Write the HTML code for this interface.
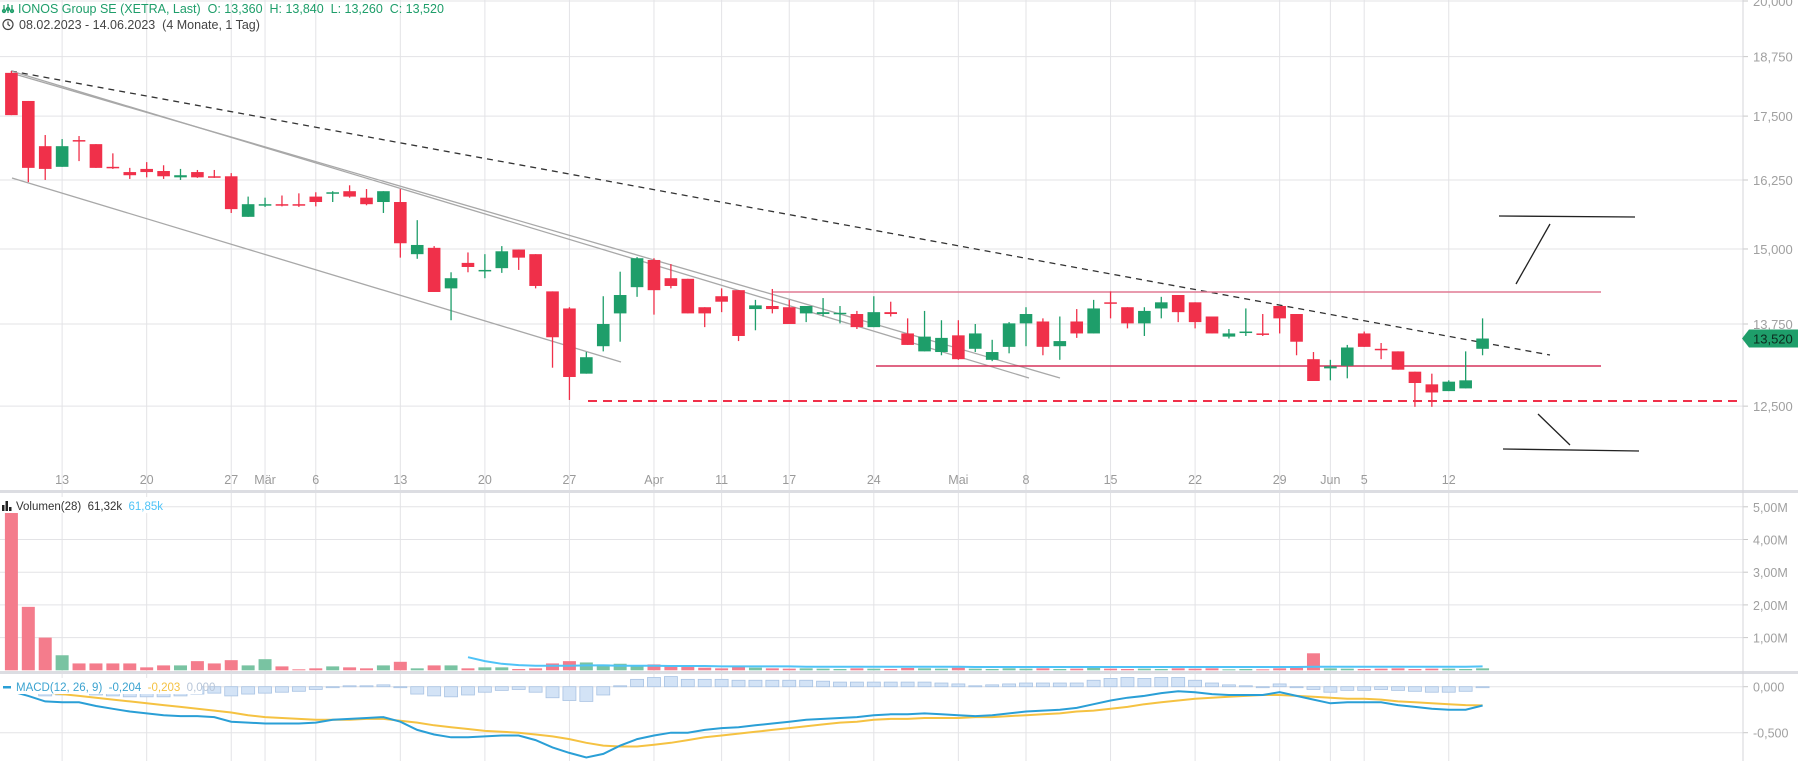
<!DOCTYPE html>
<html><head><meta charset="utf-8"><title>IONOS Group SE Chart</title>
<style>
html,body{margin:0;padding:0;background:#fff;}
body{width:1798px;height:761px;overflow:hidden;font-family:"Liberation Sans",Arial,sans-serif;}
svg text{font-family:"Liberation Sans",Arial,sans-serif;}
</style></head>
<body>
<svg id="chart" xmlns="http://www.w3.org/2000/svg" width="1798" height="761" viewBox="0 0 1798 761">
  <rect x="0" y="0" width="1798" height="761" fill="#ffffff"/>
  <g id="grid"></g>
  <g id="drawings"></g>
  <g id="candles"></g>
  <g id="volume"></g>
  <g id="macd"></g>
  <g id="axes"></g>
  <g id="legend">
    <g>
      <g stroke="#1e9e6a" stroke-width="1.3" fill="none">
        <line x1="4" y1="5" x2="4" y2="13"/><line x1="8" y1="4" x2="8" y2="13"/><line x1="12" y1="5" x2="12" y2="13"/>
        <circle cx="4" cy="11" r="1.5"/><circle cx="8" cy="9" r="1.5"/><circle cx="12" cy="11" r="1.5"/>
      </g>
      <text x="18" y="13" font-size="12.5" fill="#1e9e6a">IONOS Group SE (XETRA, Last)&#160; O: 13,360&#160; H: 13,840&#160; L: 13,260&#160; C: 13,520</text>
      <g stroke="#444" stroke-width="1.2" fill="none">
        <circle cx="8" cy="24.5" r="5"/><polyline points="8,21.5 8,24.5 10,26"/>
      </g>
      <text x="19" y="29" font-size="12.5" fill="#444">08.02.2023 - 14.06.2023&#160; (4 Monate, 1 Tag)</text>
    </g>
    <g>
      <rect x="0" y="497" width="156" height="16" fill="#fff"/>
      <rect x="2" y="505" width="2.5" height="6" fill="#222"/><rect x="5.5" y="501" width="2.5" height="10" fill="#222"/><rect x="9" y="507" width="2.5" height="4" fill="#222"/>
      <text x="16" y="510" font-size="11.5" fill="#333">Volumen(28)&#160; 61,32k&#160; <tspan fill="#4fc3f7">61,85k</tspan></text>
    </g>
    <g>
      <rect x="0" y="678" width="202" height="16" fill="#fff"/>
      <rect x="3" y="686" width="8" height="2.5" fill="#2a9fd6"/>
      <text x="16" y="691" font-size="11.5" fill="#3ba3d0">MACD(12, 26, 9)&#160; -0,204&#160; <tspan fill="#f5c242">-0,203</tspan>&#160; <tspan fill="#b8c6d8">0,000</tspan></text>
    </g>
  </g>
</svg>
<script>
// ---- data ----
const xLabels = ['13','20','27','Mär','6','13','20','27','Apr','11','17','24','Mai','8','15','22','29','Jun','5','12'];
const xLabelIdx = [3,8,13,15,18,23,28,33,38,42,46,51,56,60,65,70,75,78,80,85];
const priceTicks = [20,18.75,17.5,16.25,15,13.75,12.5];
const volTicks = [1,2,3,4,5];
const macdTicks = [0,-0.5];
const openP = [18.40,17.81,16.90,16.50,17.02,16.94,16.50,16.40,16.46,16.42,
16.30,16.40,16.32,16.32,15.57,15.79,15.80,15.80,15.94,16.00,
16.04,15.92,15.84,15.84,14.91,15.02,14.33,14.76,14.62,14.67,
14.99,14.91,14.28,14.00,12.98,13.40,13.92,14.35,14.81,14.50,
14.49,14.02,14.20,14.30,13.99,14.04,14.02,13.92,13.91,13.92,
13.91,13.70,13.94,13.60,13.32,13.31,13.57,13.36,13.19,13.39,
13.76,13.79,13.40,13.79,13.60,14.10,14.02,13.76,14.00,14.22,
14.10,13.87,13.55,13.62,13.60,14.04,13.91,13.20,13.06,13.10,
13.60,13.36,13.32,13.01,12.82,12.72,12.76,13.36];
const highP = [18.44,17.81,17.12,17.04,17.10,16.94,16.76,16.48,16.59,16.53,
16.46,16.44,16.44,16.38,15.94,15.92,15.96,16.00,16.02,16.04,
16.15,16.08,16.04,16.08,15.51,15.05,14.60,14.94,14.91,15.05,
14.99,14.91,14.28,14.02,13.31,14.20,14.61,14.86,14.84,14.74,
14.49,14.02,14.33,14.30,14.14,14.32,14.14,14.04,14.17,14.04,
13.96,14.20,14.11,13.84,13.96,13.81,13.81,13.75,13.50,13.78,
14.02,13.84,13.87,13.99,14.14,14.28,14.02,14.02,14.19,14.22,
14.10,13.87,13.67,14.00,13.91,14.04,13.91,13.31,13.19,13.42,
13.63,13.45,13.32,13.01,12.98,12.88,13.32,13.84];
const lowP = [17.52,16.21,16.25,16.50,16.61,16.48,16.46,16.27,16.30,16.27,
16.25,16.29,16.29,15.64,15.57,15.75,15.76,15.75,15.76,15.84,
15.92,15.78,15.64,14.85,14.83,14.27,13.81,14.60,14.50,14.59,
14.64,14.33,13.07,12.59,12.98,13.32,13.47,14.19,13.90,14.33,
13.92,13.70,13.94,13.48,13.65,13.92,13.75,13.78,13.87,13.76,
13.67,13.70,13.87,13.42,13.32,13.26,13.19,13.31,13.17,13.29,
13.40,13.26,13.19,13.53,13.60,13.84,13.68,13.56,13.84,13.78,
13.68,13.60,13.52,13.56,13.56,13.60,13.26,12.87,12.88,12.91,
13.39,13.20,13.04,12.49,12.49,12.72,12.76,13.26];
const closeP = [17.52,16.48,16.46,16.90,17.00,16.48,16.48,16.34,16.40,16.32,
16.34,16.30,16.30,15.71,15.80,15.80,15.78,15.78,15.84,16.02,
15.94,15.80,16.04,15.10,15.07,14.27,14.50,14.69,14.64,14.96,
14.85,14.37,13.54,12.93,13.23,13.75,14.22,14.84,14.30,14.37,
13.92,13.92,14.11,13.56,14.05,13.99,13.75,14.04,13.94,13.93,
13.70,13.94,13.91,13.42,13.55,13.53,13.20,13.60,13.31,13.76,
13.91,13.39,13.48,13.60,14.00,14.09,13.76,13.96,14.10,13.94,
13.78,13.60,13.60,13.63,13.59,13.84,13.47,12.87,13.09,13.38,
13.39,13.34,13.04,12.84,12.70,12.86,12.88,13.52];
const volumeM = [4.81,1.94,1.00,0.46,0.21,0.21,0.21,0.21,0.09,0.15,
0.15,0.28,0.21,0.31,0.15,0.34,0.12,0.03,0.06,0.12,
0.09,0.06,0.15,0.26,0.06,0.15,0.15,0.06,0.09,0.09,
0.04,0.06,0.21,0.28,0.24,0.18,0.20,0.14,0.18,0.12,
0.10,0.08,0.06,0.12,0.08,0.06,0.05,0.06,0.05,0.04,
0.06,0.05,0.04,0.07,0.06,0.05,0.08,0.05,0.04,0.06,
0.05,0.06,0.04,0.05,0.08,0.05,0.04,0.05,0.04,0.06,
0.05,0.06,0.03,0.04,0.03,0.06,0.08,0.52,0.06,0.05,
0.04,0.05,0.06,0.04,0.05,0.05,0.04,0.06];
const volumeMA = [null,null,null,null,null,null,null,null,null,null,
null,null,null,null,null,null,null,null,null,null,
null,null,null,null,null,null,null,0.40,0.28,0.20,
0.16,0.14,0.14,0.14,0.15,0.15,0.14,0.14,0.14,0.13,
0.13,0.13,0.12,0.12,0.12,0.12,0.12,0.11,0.11,0.11,
0.11,0.11,0.11,0.11,0.11,0.11,0.11,0.10,0.10,0.10,
0.10,0.10,0.10,0.10,0.10,0.10,0.10,0.10,0.10,0.10,
0.10,0.10,0.10,0.10,0.10,0.10,0.10,0.11,0.11,0.11,
0.11,0.11,0.11,0.11,0.11,0.11,0.11,0.12];
const macdLine = [-0.05,-0.10,-0.16,-0.17,-0.17,-0.21,-0.24,-0.27,-0.29,-0.31,
-0.32,-0.32,-0.33,-0.38,-0.39,-0.40,-0.40,-0.40,-0.39,-0.36,
-0.35,-0.34,-0.33,-0.38,-0.47,-0.52,-0.55,-0.55,-0.54,-0.53,
-0.53,-0.58,-0.66,-0.72,-0.77,-0.73,-0.64,-0.57,-0.53,-0.50,
-0.50,-0.47,-0.45,-0.44,-0.42,-0.40,-0.38,-0.36,-0.35,-0.34,
-0.33,-0.31,-0.30,-0.30,-0.29,-0.30,-0.31,-0.32,-0.31,-0.29,
-0.27,-0.26,-0.25,-0.23,-0.19,-0.15,-0.12,-0.10,-0.07,-0.05,
-0.06,-0.08,-0.09,-0.09,-0.09,-0.06,-0.10,-0.14,-0.18,-0.17,
-0.17,-0.17,-0.20,-0.22,-0.24,-0.25,-0.25,-0.204];
const signalLine = [-0.04,-0.05,-0.06,-0.08,-0.10,-0.12,-0.14,-0.16,-0.18,-0.20,
-0.22,-0.24,-0.26,-0.28,-0.31,-0.33,-0.34,-0.35,-0.36,-0.36,
-0.36,-0.35,-0.35,-0.37,-0.39,-0.42,-0.44,-0.46,-0.48,-0.49,
-0.50,-0.52,-0.54,-0.57,-0.61,-0.64,-0.65,-0.65,-0.63,-0.61,
-0.58,-0.55,-0.53,-0.51,-0.49,-0.47,-0.45,-0.43,-0.41,-0.39,
-0.38,-0.36,-0.35,-0.35,-0.34,-0.34,-0.34,-0.33,-0.33,-0.32,
-0.31,-0.30,-0.29,-0.27,-0.26,-0.24,-0.22,-0.19,-0.17,-0.15,
-0.13,-0.12,-0.11,-0.10,-0.09,-0.09,-0.10,-0.11,-0.12,-0.13,
-0.13,-0.14,-0.16,-0.17,-0.18,-0.19,-0.20,-0.203];
const lastPrice = 13.52;

// ---- scales ----
const NS = 'http://www.w3.org/2000/svg';
const AXIS_X = 1743;
function xI(i){ return 11.4 + i*16.91; }
function yP(p){ return 1 + Math.log(20/p)*862; }
function yV(v){ return 670.3 - v*32.7; }
function yM(m){ return 686.7 - m*92; }
function mk(tag, attrs, parent){
  const e = document.createElementNS(NS, tag);
  for (const k in attrs) e.setAttribute(k, attrs[k]);
  parent.appendChild(e);
  return e;
}
function fmt(v, d){ return v.toFixed(d).replace('.', ','); }

const gGrid = document.getElementById('grid');
const gDraw = document.getElementById('drawings');
const gC = document.getElementById('candles');
const gV = document.getElementById('volume');
const gM = document.getElementById('macd');
const gA = document.getElementById('axes');

xLabelIdx.forEach((idx, k) => {
  const x = xI(idx);
  const l = mk('line', {x1:x, y1:0, x2:x, y2:761, stroke:'#e3e3e6', 'stroke-width':1}, gGrid);
  
  
  const t = mk('text', {x:x, y:484, 'font-size':12.5, fill:'#9a9a9a', 'text-anchor':'middle'}, gA);
  t.textContent = xLabels[k];
  
  
});
priceTicks.forEach(p => {
  const y = yP(p);
  const l = mk('line', {x1:0, y1:y, x2:AXIS_X, y2:y, stroke:'#e3e3e6', 'stroke-width':1}, gGrid);
  
  
  mk('line', {x1:AXIS_X, y1:y, x2:AXIS_X+5, y2:y, stroke:'#c8c8c8'}, gA);
  const t = mk('text', {x:AXIS_X+10, y:y+5, 'font-size':13, fill:'#a0a0a0'}, gA);
  t.textContent = fmt(p, 3);
  
  
});
volTicks.forEach(v => {
  const y = yV(v);
  const l = mk('line', {x1:0, y1:y, x2:AXIS_X, y2:y, stroke:'#e3e3e6'}, gGrid);
  
  
  mk('line', {x1:AXIS_X, y1:y, x2:AXIS_X+5, y2:y, stroke:'#c8c8c8'}, gA);
  const t = mk('text', {x:AXIS_X+10, y:y+5, 'font-size':12.5, fill:'#a0a0a0'}, gA);
  t.textContent = fmt(v, 2) + 'M';
  
  
});
macdTicks.forEach(m => {
  const y = yM(m);
  const l = mk('line', {x1:0, y1:y, x2:AXIS_X, y2:y, stroke:'#e3e3e6'}, gGrid);
  
  
  mk('line', {x1:AXIS_X, y1:y, x2:AXIS_X+5, y2:y, stroke:'#c8c8c8'}, gA);
  const t = mk('text', {x:AXIS_X+10, y:y+5, 'font-size':12.5, fill:'#a0a0a0'}, gA);
  t.textContent = fmt(m, 3);
  
  
});
[[490,3],[671,3]].forEach(s => {
  const r = mk('rect', {x:0, y:s[0], width:1798, height:s[1], fill:'#dcdde2'}, gA);
  
  
});
const ax = mk('line', {x1:AXIS_X, y1:0, x2:AXIS_X, y2:761, stroke:'#d4d4d8'}, gA);



function dl(x1,y1,x2,y2,stroke,w,dash,name){
  const l = mk('line', {x1:x1,y1:y1,x2:x2,y2:y2,stroke:stroke,'stroke-width':w}, gDraw);
  if (dash) l.setAttribute('stroke-dasharray', dash);
  
  
}
dl(11,71,1550,355,'#333',1.3,'6 5','dashed-trendline');
dl(11,71,1029,378,'#a8a8a8',1.3,null,'channel-line-upper-a');
dl(11,73,1060,378,'#a8a8a8',1.3,null,'channel-line-upper-b');
dl(12,178,621,362,'#a8a8a8',1.3,null,'channel-line-lower');
dl(773,292,1601,292,'#e07a93',1.5,null,'resistance-line');
dl(876,366,1601,366,'#d6335c',1.5,null,'support-line');
dl(588,401,AXIS_X,401,'#f0304a',2,'9 6','support-dashed-line');
dl(1499,216,1635,217,'#222',1.3,null,'target-up-line');
dl(1516,284,1550,224,'#222',1.3,null,'target-up-arrow');
dl(1538,414,1570,445,'#222',1.3,null,'target-down-arrow');
dl(1503,449,1639,451,'#222',1.3,null,'target-down-line');

const RED = '#f0304a', GREEN = '#1e9e6a';
for (let i = 0; i < closeP.length; i++) {
  const x = xI(i);
  const up = closeP[i] >= openP[i];
  const col = up ? GREEN : RED;
  const w = mk('line', {x1:x, y1:yP(highP[i]), x2:x, y2:yP(lowP[i]), stroke:col, 'stroke-width':1.3}, gC);
  
  
  const yt = Math.min(yP(openP[i]), yP(closeP[i]));
  const h = Math.max(1.5, Math.abs(yP(openP[i]) - yP(closeP[i])));
  const b = mk('rect', {x:x-6.3, y:yt, width:12.6, height:h, fill:col}, gC);
  
  
}
const yl = yP(lastPrice);
const tag = mk('path', {d:`M${AXIS_X-1},${yl} L${AXIS_X+6},${yl-9} L1798,${yl-9} L1798,${yl+9} L${AXIS_X+6},${yl+9} Z`, fill:'#1e9e6a'}, gA);


const tt = mk('text', {x:AXIS_X+10, y:yl+5, 'font-size':13, fill:'#0c2a1e'}, gA);
tt.textContent = fmt(lastPrice, 3);



for (let i = 0; i < volumeM.length; i++) {
  const up = closeP[i] >= openP[i];
  const y = yV(volumeM[i]);
  const r = mk('rect', {x:xI(i)-6.5, y:y, width:13, height:yV(0)-y, fill: up ? '#79c3a2' : '#f47c8c'}, gV);
  
  
}
let vp = '';
volumeMA.forEach((v,i) => { if (v !== null) vp += (vp ? ' L' : 'M') + xI(i).toFixed(1) + ',' + yV(v).toFixed(1); });
const vma = mk('path', {d:vp, fill:'none', stroke:'#4fc3f7', 'stroke-width':2}, gV);



for (let i = 0; i < macdLine.length; i++) {
  const hv = macdLine[i] - signalLine[i];
  const y0 = yM(0), y1 = yM(hv);
  const r = mk('rect', {x:xI(i)-6.5, y:Math.min(y0,y1), width:13, height:Math.max(1, Math.abs(y1-y0)), fill:'#d3e3f6', stroke:'#a9c3e3', 'stroke-width':0.8}, gM);
  
  
}
function path(arr){ return arr.map((v,i) => (i ? 'L' : 'M') + xI(i).toFixed(1) + ',' + yM(v).toFixed(1)).join(' '); }
const sl = mk('path', {d:path(signalLine), fill:'none', stroke:'#f5c242', 'stroke-width':2}, gM);


const ml = mk('path', {d:path(macdLine), fill:'none', stroke:'#2a9fd6', 'stroke-width':2}, gM);


</script>
</body></html>
